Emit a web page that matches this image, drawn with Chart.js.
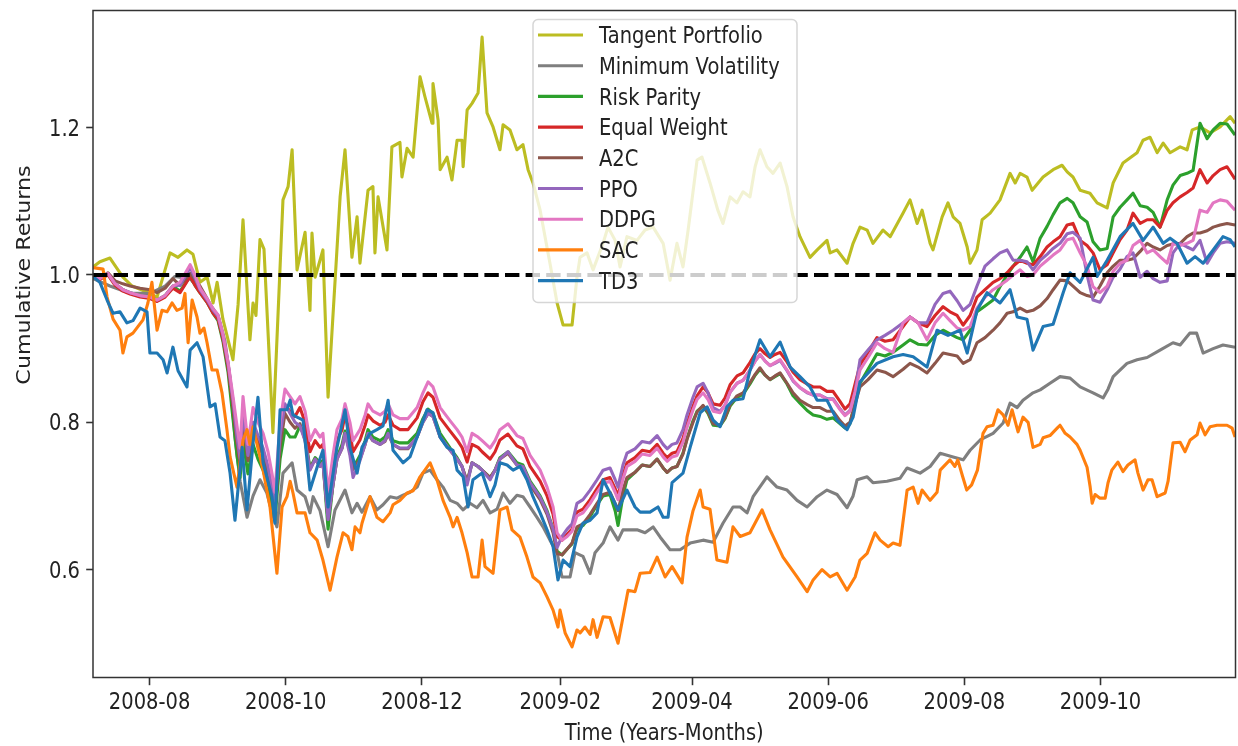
<!DOCTYPE html>
<html>
<head>
<meta charset="utf-8">
<script src="https://cdn.jsdelivr.net/npm/chart.js@4.4.0/dist/chart.umd.min.js"></script>
<style>html,body{margin:0;padding:0;background:#fff}canvas{display:block}</style>
</head>
<body>
<canvas id="c" width="1238" height="746"></canvas>
<script>
// ---------- axis data ----------
const START = Date.UTC(2008, 6, 6, 16);   // day 0 of the x axis
const DAY = 86400000;
const X_END = 511.8;                       // last day shown
const tickDates = ['2008-08-01','2008-10-01','2008-12-01','2009-02-01','2009-04-01','2009-06-01','2009-08-01','2009-10-01'];
const tickLabels = ['2008-08','2008-10','2008-12','2009-02','2009-04','2009-06','2009-08','2009-10'];
const yTicks = [0.6, 0.8, 1.0, 1.2];
const yTickLabels = ['0.6','0.8','1.0','1.2'];
const Y_MIN = 0.4535, Y_MAX = 1.3591;
const baselineValue = 1.0;

const seriesNames = ['Tangent Portfolio','Minimum Volatility','Risk Parity','Equal Weight','A2C','PPO','DDPG','SAC','TD3'];
const seriesColors = ['#bcbd22','#7f7f7f','#2ca02c','#d62728','#8c564b','#9467bd','#e377c2','#ff7f0e','#1f77b4'];

// ---------- series data (x = days since start) ----------
const tangentDays = [0,3.1,7.6,13.4,17.5,23.3,28.7,34.5,38.1,42.1,44.8,47.9,51.1,53.8,55.6,58.2,62.7,65.0,67.2,70.3,71.7,73.0,74.8,76.6,80.6,85.1,87.4,89.2,91.4,95.0,97.2,98.1,99.5,101.7,103.0,105.3,110.7,112.9,116.0,118.3,119.6,123.2,125.4,126.3,127.7,131.7,133.9,137.5,138.4,140.7,143.4,146.5,148.7,151.9,152.3,154.6,155.5,158.6,160.8,163.1,165.3,165.8,167.6,169.8,172.5,174.3,176.5,179.2,182.3,183.7,186.8,189.9,192.6,194.9,197.1,200.3,204.7,207.9,210.6,214.6,216.8,218.2,221.3,224.0,228.5,230.7,233.9,236.1,239.2,243.7,247.3,250.9,255.4,258.5,261.6,264.3,266.6,270.6,272.8,276.4,279.9,282.2,285.4,288.5,291.2,294.3,296.6,298.8,301.9,304.6,307.8,310.9,313.6,316.7,321.2,324.4,328.8,330.2,333.3,337.8,340.5,343.6,346.8,349.4,353.9,357.1,362.9,366.0,369.2,371.4,375.0,376.3,380.4,383.0,385.3,388.4,391.6,392.9,396.0,398.3,401.9,406.3,410.8,413.1,415.3,418.4,420.7,425.6,430.1,434.1,436.4,439.0,442.2,446.6,449.8,454.3,457.0,461.4,467.7,470.4,473.5,476.7,479.4,482.5,487.0,490.1,492.4,495.9,500.4,504.9,509.4,511.6];
const tangentValues = [1.011,1.018,1.023,0.997,0.985,0.978,0.970,1.030,1.024,1.034,1.028,0.990,0.997,0.962,0.990,0.940,0.885,0.960,1.075,0.912,0.962,0.945,1.048,1.035,0.786,1.102,1.120,1.170,1.007,1.058,0.952,1.057,0.997,1.020,1.034,0.834,1.106,1.170,1.024,1.079,1.016,1.115,1.120,1.030,1.106,1.034,1.174,1.180,1.133,1.172,1.160,1.269,1.242,1.206,1.260,1.210,1.143,1.160,1.129,1.183,1.183,1.147,1.224,1.233,1.247,1.323,1.220,1.201,1.170,1.204,1.197,1.170,1.177,1.143,1.125,1.088,1.016,0.962,0.932,0.932,0.997,1.024,1.030,1.007,1.043,1.065,1.047,1.011,1.052,1.047,1.061,1.065,1.043,0.993,1.043,1.011,1.061,1.156,1.160,1.125,1.088,1.070,1.106,1.098,1.113,1.106,1.147,1.170,1.147,1.138,1.152,1.120,1.079,1.052,1.024,1.034,1.047,1.030,1.034,1.016,1.043,1.065,1.061,1.043,1.061,1.052,1.084,1.102,1.070,1.088,1.043,1.034,1.079,1.098,1.079,1.070,1.038,1.016,1.034,1.075,1.084,1.102,1.138,1.125,1.138,1.133,1.115,1.133,1.143,1.149,1.140,1.133,1.115,1.111,1.098,1.091,1.125,1.152,1.166,1.183,1.187,1.166,1.179,1.166,1.174,1.170,1.197,1.201,1.193,1.201,1.215,1.206];

const minVolDays = [0,7.6,16.6,25.5,32.3,36.7,43.5,47.9,52.4,56.0,59.1,61.4,63.6,65.9,69.0,71.7,74.8,77.9,80.2,82.4,85.1,89.2,91.4,95.0,97.2,98.6,101.7,105.3,108.4,112.9,116.0,118.3,120.5,124.1,127.2,129.9,133.1,136.2,138.9,142.0,145.2,147.8,151.0,154.1,156.8,160.0,163.1,165.8,168.9,172.0,174.7,177.9,181.0,183.7,186.8,189.9,192.6,195.8,198.9,201.6,204.7,207.9,210.1,213.7,215.9,219.5,222.7,224.9,228.5,231.6,235.2,237.4,243.7,247.3,250.9,254.1,258.5,263.0,267.5,273.3,277.8,282.2,286.7,289.9,293.0,295.7,301.9,306.4,310.9,315.4,319.9,324.4,328.8,333.3,337.8,340.5,342.3,346.8,349.4,355.7,361.5,364.7,370.5,375.0,379.5,385.3,389.8,392.9,397.4,403.2,407.7,410.8,414.0,416.6,421.1,424.3,428.7,433.2,437.7,442.2,448.0,452.5,454.7,457.0,463.2,467.7,472.2,478.0,483.8,487.0,491.3,494.4,497.3,501.8,506.2,511.6];
const minVolValues = [0.995,0.985,0.975,0.975,0.985,0.998,0.995,0.98,0.96,0.945,0.91,0.86,0.78,0.72,0.671,0.7,0.722,0.704,0.677,0.658,0.731,0.745,0.708,0.699,0.677,0.699,0.68,0.631,0.681,0.708,0.677,0.69,0.678,0.699,0.681,0.688,0.699,0.697,0.701,0.705,0.712,0.731,0.735,0.722,0.712,0.694,0.69,0.681,0.69,0.684,0.694,0.677,0.682,0.704,0.69,0.701,0.699,0.685,0.671,0.658,0.64,0.623,0.59,0.59,0.623,0.618,0.595,0.623,0.636,0.658,0.64,0.654,0.654,0.65,0.658,0.644,0.627,0.627,0.636,0.64,0.637,0.663,0.685,0.685,0.677,0.699,0.726,0.712,0.708,0.694,0.685,0.699,0.708,0.702,0.684,0.7,0.722,0.726,0.718,0.72,0.724,0.738,0.731,0.74,0.758,0.753,0.749,0.762,0.776,0.785,0.799,0.826,0.82,0.83,0.84,0.844,0.853,0.862,0.86,0.848,0.84,0.833,0.845,0.862,0.88,0.885,0.888,0.898,0.908,0.905,0.921,0.921,0.894,0.9,0.905,0.902];

const bundleDays = [0,3.1,6.7,9.9,13.4,16.6,21.1,25.5,28.7,32.3,35.8,39.0,43.5,45.7,47.9,51.1,53.8,56.0,58.2,60.5,62.7,64.5,65.9,67.2,69.4,71.7,73.9,76.2,78.4,80.2,81.5,83.8,86.0,88.3,90.5,92.7,95.0,97.2,99.5,101.7,103.0,105.3,107.5,109.3,111.6,112.9,115.1,116.5,119.6,121.9,123.2,125.4,128.6,130.8,132.2,134.4,137.5,141.1,145.2,147.8,150.1,152.3,155.5,160.0,163.1,165.3,167.6,169.8,172.5,174.3,177.9,180.1,182.3,185.9,189.9,192.6,195.8,200.3,203.4,206.1,207.9,210.1,212.4,214.6,216.8,219.5,222.7,225.8,228.5,231.6,233.9,235.2,237.4,239.2,242.8,246.0,249.5,252.7,255.4,257.2,259.4,261.6,264.3,266.1,268.8,270.6,273.3,275.5,277.8,280.9,283.1,285.4,288.5,291.2,294.3,296.6,298.8,301.1,303.3,305.5,307.8,310.9,313.6,316.7,319.9,322.6,325.7,328.8,331.5,334.7,336.9,339.1,341.4,343.6,347.2,351.2,354.8,358.4,362.9,366.0,369.6,373.6,377.2,380.8,383.9,387.1,389.8,392.9,396.0,399.6,403.2,406.3,409.5,412.2,415.3,418.4,421.1,424.3,427.4,430.1,433.2,436.4,439.0,442.2,445.3,448.0,451.1,454.3,457.0,460.1,463.2,465.9,469.1,472.2,474.9,478.0,481.2,483.8,487.0,490.1,492.8,495.9,499.1,501.8,504.9,508.0,511.6];

const riskParityValues = [1.000,0.995,1.002,0.988,0.980,0.976,0.972,0.970,0.966,0.972,0.985,0.978,0.998,0.986,0.976,0.963,0.948,0.938,0.910,0.868,0.805,0.755,0.725,0.775,0.730,0.770,0.750,0.735,0.712,0.685,0.668,0.750,0.790,0.780,0.780,0.795,0.780,0.738,0.752,0.745,0.748,0.655,0.715,0.752,0.770,0.788,0.765,0.738,0.755,0.775,0.790,0.780,0.775,0.780,0.790,0.775,0.772,0.772,0.785,0.805,0.818,0.812,0.785,0.765,0.752,0.740,0.718,0.745,0.740,0.735,0.725,0.735,0.752,0.760,0.745,0.742,0.720,0.700,0.680,0.655,0.625,0.620,0.628,0.635,0.655,0.660,0.672,0.688,0.700,0.702,0.680,0.660,0.700,0.722,0.732,0.742,0.740,0.750,0.738,0.732,0.738,0.740,0.758,0.778,0.802,0.815,0.822,0.812,0.796,0.795,0.805,0.822,0.834,0.838,0.852,0.864,0.872,0.864,0.858,0.862,0.866,0.852,0.836,0.826,0.816,0.810,0.808,0.804,0.806,0.798,0.792,0.798,0.828,
0.853,0.872,0.893,0.890,0.895,0.905,0.912,0.906,0.905,0.918,0.925,0.920,0.915,0.912,0.925,0.950,0.958,0.966,0.984,1.000,1.012,1.024,1.038,1.018,1.050,1.066,1.082,1.098,1.104,1.098,1.079,1.072,1.045,1.034,1.036,1.079,1.092,1.102,1.111,1.094,1.092,1.085,1.065,1.102,1.122,1.135,1.138,1.142,1.206,1.185,1.197,1.206,1.205,1.190];

const equalWeightValues = [1.000,0.994,1.000,0.986,0.978,0.974,0.970,0.968,0.964,0.970,0.982,0.976,0.998,0.986,0.976,0.963,0.948,0.940,0.913,0.874,0.822,0.774,0.745,0.808,0.752,0.797,0.776,0.760,0.736,0.706,0.686,0.778,0.823,0.815,0.808,0.820,0.800,0.760,0.775,0.766,0.770,0.690,0.740,0.775,0.790,0.810,0.786,0.760,0.776,0.796,0.810,0.802,0.796,0.800,0.810,0.796,0.790,0.790,0.806,0.828,0.840,0.834,0.806,0.788,0.776,0.766,0.746,0.770,0.766,0.760,0.750,0.760,0.776,0.784,0.768,0.764,0.740,0.720,0.700,0.675,0.645,0.640,0.648,0.655,0.678,0.682,0.695,0.710,0.722,0.725,0.710,0.700,0.728,0.745,0.752,0.762,0.760,0.770,0.758,0.752,0.758,0.760,0.778,0.798,0.822,0.836,0.848,0.840,0.825,0.823,0.833,0.851,0.863,0.867,0.881,0.893,0.900,0.893,0.888,0.892,0.895,0.882,0.868,0.858,0.852,0.848,0.848,0.842,0.842,0.828,0.818,0.825,0.852,
0.878,0.895,0.915,0.910,0.912,0.930,0.943,0.935,0.930,0.945,0.957,0.950,0.945,0.932,0.945,0.970,0.980,0.990,0.995,1.003,1.012,1.020,1.016,1.014,1.025,1.038,1.045,1.052,1.068,1.070,1.047,1.040,1.030,1.007,1.014,1.030,1.048,1.061,1.084,1.070,1.075,1.075,1.065,1.088,1.098,1.106,1.112,1.118,1.143,1.125,1.135,1.143,1.147,1.130];

const a2cValues = [1.000,0.996,1.003,0.992,0.988,0.985,0.982,0.980,0.976,0.982,0.995,0.986,1.002,0.994,0.985,0.968,0.952,0.944,0.918,0.878,0.825,0.775,0.745,0.805,0.748,0.790,0.770,0.755,0.730,0.700,0.680,0.768,0.812,0.800,0.792,0.798,0.776,0.736,0.750,0.740,0.745,0.668,0.715,0.750,0.765,0.784,0.760,0.736,0.750,0.770,0.784,0.775,0.770,0.774,0.784,0.770,0.764,0.764,0.780,0.800,0.812,0.808,0.780,0.762,0.750,0.740,0.720,0.745,0.740,0.735,0.725,0.735,0.750,0.758,0.742,0.738,0.715,0.695,0.675,0.650,0.622,0.620,0.628,0.636,0.658,0.662,0.675,0.690,0.702,0.705,0.690,0.680,0.708,0.725,0.732,0.742,0.740,0.750,0.738,0.732,0.738,0.740,0.757,0.777,0.800,0.814,0.823,0.814,0.798,0.796,0.806,0.824,0.836,0.840,0.854,0.865,0.874,0.864,0.858,0.863,0.867,0.853,0.840,0.830,0.824,0.820,0.820,0.815,0.815,0.802,0.795,0.800,0.825,
0.848,0.858,0.871,0.868,0.862,0.872,0.880,0.875,0.867,0.880,0.894,0.892,0.890,0.880,0.885,0.908,0.915,0.925,0.935,0.948,0.950,0.955,0.950,0.952,0.958,0.968,0.980,0.993,0.992,0.985,0.976,0.972,0.970,0.985,1.003,1.012,1.020,1.020,1.022,1.032,1.043,1.038,1.034,1.040,1.042,1.043,1.052,1.057,1.057,1.060,1.065,1.068,1.070,1.068];

const ppoValues = [1.000,0.996,1.002,0.988,0.980,0.976,0.972,0.970,0.966,0.972,0.985,0.986,1.010,0.996,0.980,0.966,0.952,0.944,0.918,0.880,0.830,0.780,0.750,0.815,0.755,0.800,0.782,0.765,0.740,0.710,0.690,0.782,0.825,0.812,0.800,0.795,0.775,0.735,0.750,0.740,0.745,0.668,0.715,0.750,0.765,0.785,0.755,0.725,0.748,0.770,0.785,0.775,0.770,0.775,0.785,0.770,0.765,0.765,0.780,0.800,0.812,0.808,0.780,0.762,0.750,0.740,0.715,0.745,0.740,0.735,0.722,0.735,0.750,0.760,0.742,0.740,0.718,0.698,0.678,0.655,0.630,0.645,0.655,0.662,0.690,0.695,0.708,0.722,0.735,0.738,0.722,0.712,0.742,0.758,0.764,0.774,0.772,0.782,0.770,0.764,0.770,0.772,0.790,0.810,0.834,0.848,0.853,0.840,0.820,0.815,0.823,0.841,0.853,0.857,0.871,0.883,0.892,0.883,0.877,0.880,0.884,0.870,0.856,0.847,0.840,0.837,0.837,0.832,0.832,0.818,0.810,0.816,0.842,
0.885,0.898,0.912,0.918,0.925,0.935,0.943,0.935,0.935,0.960,0.975,0.978,0.965,0.952,0.960,0.985,1.012,1.022,1.030,1.034,1.020,1.020,1.018,1.007,1.020,1.028,1.036,1.043,1.056,1.058,1.050,1.000,0.966,0.963,0.980,0.997,1.008,1.025,1.030,0.997,1.005,0.995,0.990,0.992,1.030,1.043,1.038,1.034,1.047,1.016,1.030,1.043,1.045,1.043];

const ddpgValues = [1.000,0.995,1.002,0.988,0.980,0.976,0.972,0.970,0.966,0.972,0.985,0.990,1.014,1.000,0.982,0.968,0.954,0.946,0.920,0.882,0.835,0.795,0.765,0.835,0.770,0.820,0.800,0.785,0.760,0.730,0.705,0.800,0.845,0.835,0.825,0.835,0.815,0.775,0.790,0.780,0.785,0.705,0.755,0.790,0.805,0.825,0.800,0.775,0.790,0.810,0.825,0.815,0.810,0.815,0.825,0.810,0.805,0.805,0.820,0.840,0.855,0.848,0.820,0.802,0.790,0.780,0.760,0.785,0.780,0.775,0.765,0.775,0.790,0.798,0.782,0.778,0.755,0.735,0.712,0.685,0.650,0.640,0.645,0.652,0.673,0.677,0.690,0.705,0.717,0.720,0.705,0.695,0.723,0.740,0.747,0.757,0.755,0.765,0.753,0.747,0.753,0.755,0.773,0.793,0.817,0.831,0.840,0.831,0.815,0.813,0.823,0.841,0.853,0.857,0.871,0.883,0.892,0.883,0.877,0.881,0.885,0.871,0.857,0.847,0.841,0.837,0.837,0.831,0.831,0.817,0.809,0.815,0.841,
0.871,0.888,0.908,0.900,0.895,0.935,0.943,0.935,0.912,0.935,0.948,0.938,0.928,0.925,0.930,0.955,0.970,0.980,0.986,0.993,1.000,1.007,0.998,1.000,1.012,1.020,1.027,1.034,1.048,1.050,1.030,1.012,0.984,0.976,0.985,1.005,1.016,1.020,1.040,1.047,1.030,1.034,1.025,1.016,1.043,1.040,1.043,1.047,1.088,1.085,1.098,1.102,1.100,1.088];

const sacDays = [0,4.5,6.3,9.0,12.1,13.4,15.2,17.9,22.4,24.6,26.4,28.7,30.9,33.2,35.4,37.6,39.9,41.2,42.6,44.4,46.6,47.9,49.7,51.1,53.3,55.6,57.8,60.0,61.4,64.5,67.2,69.0,70.3,71.7,73.5,76.2,79.3,82.4,84.7,86.9,88.3,89.6,91.4,95.0,97.2,100.4,103.0,106.2,109.3,112.0,114.2,116.0,117.4,119.6,120.5,124.1,127.2,129.9,133.1,134.4,137.5,140.7,143.4,146.5,151.0,154.1,156.8,160.0,161.3,163.1,165.3,167.6,169.8,172.5,174.3,175.6,179.2,182.3,185.5,187.7,191.3,194.4,197.1,200.3,203.4,206.1,208.3,209.2,211.5,214.6,216.8,218.2,220.4,222.7,224.0,225.8,228.5,231.6,235.2,239.7,242.8,245.1,249.5,252.7,256.3,259.4,263.9,266.1,268.8,272.0,273.3,276.4,279.5,284.0,286.7,289.9,294.3,299.7,303.3,309.1,315.4,319.9,322.6,326.6,330.2,333.3,337.8,341.4,343.6,346.8,350.3,352.6,356.2,358.4,361.5,364.7,367.4,369.6,371.4,375.0,378.1,379.5,383.9,386.1,387.4,389.6,391.4,393.6,396.2,398.7,400.5,403.2,405.4,407.7,409.9,411.7,414.4,416.6,418.9,421.1,424.3,425.6,428.7,431.9,433.2,435.5,437.7,440.8,442.2,445.3,446.7,447.6,448.9,451.1,453.4,454.7,456.4,459.1,461.4,463.6,466.8,468.1,470.4,472.6,474.4,476.7,480.3,481.6,483.8,487.0,489.2,491.5,494.6,495.9,498.2,500.4,503.5,508.0,510.3,511.6];
const sacValues = [1.01,1.008,0.97,0.94,0.925,0.894,0.916,0.921,0.939,0.962,0.99,0.925,0.952,0.95,0.962,0.952,0.955,0.975,0.908,0.966,0.943,0.921,0.928,0.908,0.871,0.871,0.84,0.79,0.753,0.712,0.776,0.79,0.77,0.794,0.77,0.735,0.685,0.595,0.685,0.699,0.72,0.704,0.677,0.677,0.65,0.64,0.613,0.572,0.617,0.65,0.645,0.627,0.658,0.65,0.663,0.699,0.671,0.665,0.677,0.688,0.694,0.704,0.707,0.726,0.745,0.722,0.694,0.671,0.658,0.671,0.65,0.623,0.59,0.59,0.64,0.604,0.595,0.681,0.685,0.654,0.644,0.617,0.59,0.582,0.563,0.545,0.522,0.545,0.514,0.495,0.518,0.514,0.522,0.512,0.532,0.508,0.536,0.535,0.5,0.572,0.57,0.595,0.596,0.617,0.59,0.604,0.582,0.644,0.68,0.708,0.685,0.682,0.613,0.61,0.658,0.645,0.65,0.681,0.654,0.617,0.59,0.57,0.586,0.6,0.59,0.595,0.572,0.59,0.613,0.622,0.65,0.64,0.631,0.636,0.633,0.708,0.712,0.69,0.708,0.694,0.705,0.735,0.749,0.74,0.749,0.726,0.708,0.715,0.735,0.785,0.794,0.796,0.817,0.81,0.796,0.817,0.787,0.807,0.8,0.766,0.77,0.779,0.782,0.792,0.796,0.785,0.78,0.77,0.762,0.739,0.712,0.69,0.702,0.697,0.697,0.718,0.735,0.746,0.733,0.742,0.749,0.731,0.708,0.722,0.722,0.699,0.704,0.72,0.772,0.773,0.76,0.776,0.783,0.799,0.783,0.794,0.796,0.796,0.792,0.78];

const td3Days = [0,3.1,6.3,9.0,12.1,15.2,17.9,21.1,24.2,25.5,28.7,31.4,33.2,35.8,38.1,42.1,43.5,46.6,49.3,52.4,54.7,56.9,59.1,61.4,63.6,66.8,69.0,71.7,73.9,76.2,80.2,81.5,83.8,86.9,88.3,89.6,91.4,94.1,97.2,100.4,103.0,105.3,109.3,112.9,115.1,118.3,120.5,124.1,127.2,129.9,132.2,134.4,138.9,142.0,145.2,149.6,152.3,155.5,158.6,161.3,163.1,165.8,168.0,170.2,174.3,177.9,180.1,182.3,185.5,188.2,191.3,194.4,197.1,200.3,203.4,206.1,208.3,210.6,213.7,216.8,219.5,222.7,225.8,228.5,231.6,235.2,239.2,242.8,245.1,249.5,253.1,255.4,257.6,259.4,264.3,267.5,272.0,275.1,277.8,280.9,284.0,286.7,291.2,294.3,298.8,303.3,307.8,312.3,316.7,321.2,324.4,328.8,333.3,337.8,340.5,343.6,351.2,358.4,362.9,367.4,373.6,378.1,383.0,388.4,391.6,396.0,400.5,406.3,410.8,414.0,418.4,421.1,425.6,430.1,434.6,437.7,442.2,446.6,448.0,449.8,454.3,460.1,465.9,470.4,474.9,479.4,482.5,485.6,490.1,493.7,497.3,501.8,506.2,509.4,511.6];
const td3Values = [0.998,0.99,0.966,0.948,0.95,0.935,0.938,0.955,0.95,0.894,0.894,0.885,0.867,0.902,0.87,0.848,0.898,0.908,0.889,0.821,0.825,0.78,0.775,0.731,0.667,0.766,0.681,0.772,0.834,0.745,0.699,0.663,0.817,0.817,0.83,0.81,0.807,0.803,0.708,0.739,0.762,0.685,0.766,0.817,0.766,0.731,0.766,0.785,0.79,0.795,0.83,0.762,0.745,0.753,0.78,0.817,0.813,0.78,0.766,0.762,0.735,0.726,0.685,0.722,0.731,0.699,0.715,0.745,0.742,0.735,0.74,0.722,0.699,0.677,0.654,0.631,0.586,0.613,0.604,0.644,0.663,0.667,0.677,0.722,0.704,0.681,0.708,0.685,0.678,0.678,0.685,0.671,0.671,0.718,0.731,0.766,0.813,0.821,0.803,0.794,0.821,0.83,0.832,0.87,0.912,0.889,0.909,0.875,0.862,0.848,0.83,0.83,0.803,0.79,0.807,0.855,0.88,0.889,0.892,0.889,0.875,0.925,0.918,0.925,0.894,0.952,0.976,0.962,0.98,0.943,0.94,0.898,0.93,0.933,0.976,1.003,0.99,1.016,1.024,0.998,1.02,1.052,1.07,1.047,1.065,1.043,1.05,1.043,1.016,1.025,1.016,1.034,1.052,1.048,1.038];

// ---------- build ----------
const tickDays = tickDates.map(s => (Date.parse(s + 'T00:00:00Z') - START) / DAY);
const pts = (days, vals) => days.map((d, i) => ({ x: d, y: vals[i] }));
const seriesData = [
  pts(tangentDays, tangentValues),
  pts(minVolDays, minVolValues),
  pts(bundleDays, riskParityValues),
  pts(bundleDays, equalWeightValues),
  pts(bundleDays, a2cValues),
  pts(bundleDays, ppoValues),
  pts(bundleDays, ddpgValues),
  pts(sacDays, sacValues),
  pts(td3Days, td3Values)
];
const datasets = seriesNames.map((name, i) => ({
  label: name, data: seriesData[i], borderColor: seriesColors[i], backgroundColor: seriesColors[i],
  borderWidth: 3.1, pointRadius: 0, tension: 0, fill: false,
  borderJoinStyle: 'round', borderCapStyle: 'butt', clip: 0, order: -i
}));
datasets.push({
  label: '_baseline', data: [{ x: 0, y: baselineValue }, { x: X_END, y: baselineValue }],
  borderColor: '#000', borderWidth: 4.2, borderDash: [14.4, 6.2], pointRadius: 0, fill: false, clip: 0, order: -20
});

const FONT = "19.5px 'DejaVu Sans'";
const VS = 1.14;
const TEXT_COLOR = '#222';
function hText(ctx, str, x, y, align) {
  ctx.save(); ctx.translate(x, y); ctx.scale(1, VS);
  ctx.font = FONT; ctx.fillStyle = TEXT_COLOR; ctx.textAlign = align; ctx.textBaseline = 'alphabetic';
  ctx.fillText(str, 0, 0); ctx.restore();
}

const overlay = {
  id: 'overlay',
  afterDraw(chart) {
    const ctx = chart.ctx, a = chart.chartArea;
    const xs = chart.scales.x, ys = chart.scales.y;
    ctx.save();
    // frame
    ctx.strokeStyle = '#333'; ctx.lineWidth = 1.5;
    ctx.strokeRect(a.left, a.top, a.right - a.left, a.bottom - a.top);
    // tick labels
    tickDays.forEach((d, i) => hText(ctx, tickLabels[i], xs.getPixelForValue(d), 708.7, 'center'));
    yTicks.forEach((v, i) => hText(ctx, yTickLabels[i], 80, ys.getPixelForValue(v) + 8.1, 'right'));
    // axis titles
    hText(ctx, 'Time (Years-Months)', (a.left + a.right) / 2, 740, 'center');
    ctx.save(); ctx.translate(29.5, 275); ctx.rotate(-Math.PI / 2); ctx.scale(VS, 1);
    ctx.font = FONT; ctx.fillStyle = TEXT_COLOR; ctx.textAlign = 'center'; ctx.textBaseline = 'alphabetic';
    ctx.fillText('Cumulative Returns', 0, 0); ctx.restore();
    // legend
    const L = { x: 533, y: 19.5, w: 264, h: 283, r: 5 };
    ctx.beginPath();
    ctx.moveTo(L.x + L.r, L.y);
    ctx.lineTo(L.x + L.w - L.r, L.y); ctx.arcTo(L.x + L.w, L.y, L.x + L.w, L.y + L.r, L.r);
    ctx.lineTo(L.x + L.w, L.y + L.h - L.r); ctx.arcTo(L.x + L.w, L.y + L.h, L.x + L.w - L.r, L.y + L.h, L.r);
    ctx.lineTo(L.x + L.r, L.y + L.h); ctx.arcTo(L.x, L.y + L.h, L.x, L.y + L.h - L.r, L.r);
    ctx.lineTo(L.x, L.y + L.r); ctx.arcTo(L.x, L.y, L.x + L.r, L.y, L.r);
    ctx.closePath();
    ctx.fillStyle = 'rgba(255,255,255,0.8)'; ctx.fill();
    ctx.strokeStyle = 'rgba(204,204,204,0.8)'; ctx.lineWidth = 1.5; ctx.stroke();
    seriesNames.forEach((name, k) => {
      const cy = 35 + 30.7 * k;
      ctx.beginPath(); ctx.moveTo(538, cy); ctx.lineTo(583, cy);
      ctx.strokeStyle = seriesColors[k]; ctx.lineWidth = 3.1; ctx.lineCap = 'butt'; ctx.stroke();
      hText(ctx, name, 599, cy + 8.1, 'left');
    });
    ctx.restore();
  }
};

new Chart(document.getElementById('c'), {
  type: 'line',
  data: { datasets },
  options: {
    responsive: false, animation: false, events: [],
    layout: { autoPadding: false, padding: { top: 10.5, right: 2.5, left: 0, bottom: 0 } },
    scales: {
      x: {
        type: 'linear', min: 0, max: X_END,
        afterBuildTicks: s => { s.ticks = tickDays.map(v => ({ value: v })); },
        afterFit: s => { s.height = 746 - 677.5; },
        ticks: { display: false, autoSkip: false },
        grid: { drawOnChartArea: false, drawTicks: true, tickLength: 7.7, tickWidth: 1.6, tickColor: '#333' },
        border: { display: false }
      },
      y: {
        type: 'linear', min: Y_MIN, max: Y_MAX,
        afterBuildTicks: s => { s.ticks = yTicks.map(v => ({ value: v })); },
        afterFit: s => { s.width = 93; },
        ticks: { display: false },
        grid: { drawOnChartArea: false, drawTicks: true, tickLength: 6.8, tickWidth: 1.6, tickColor: '#333' },
        border: { display: false }
      }
    },
    plugins: { legend: { display: false }, tooltip: { enabled: false } }
  },
  plugins: [overlay]
});
</script>
</body>
</html>
